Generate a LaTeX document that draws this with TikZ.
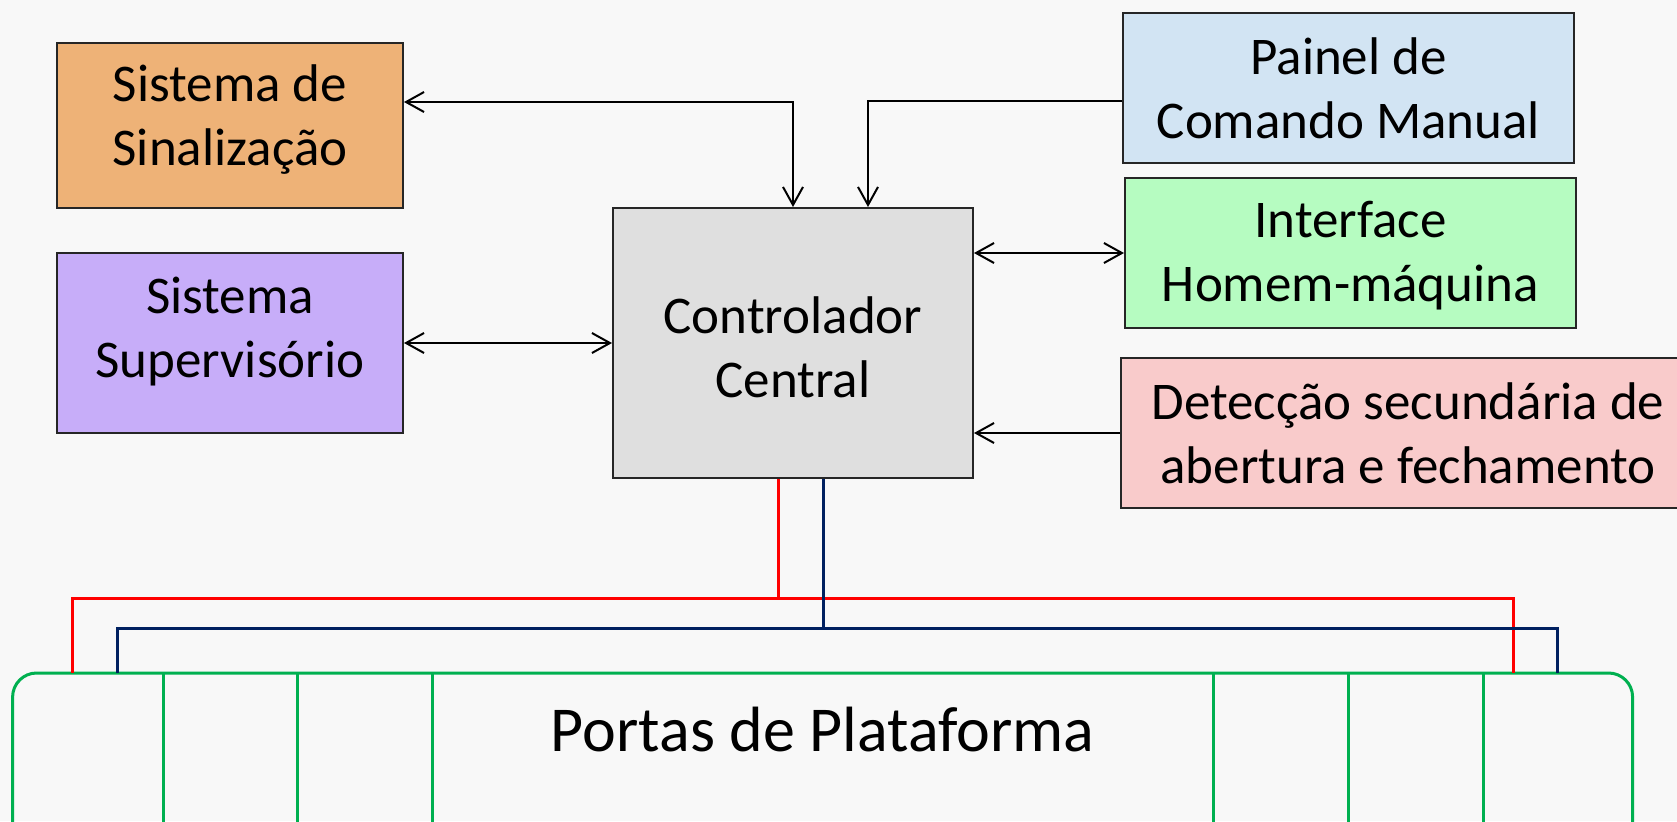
\documentclass[tikz,border=0pt]{standalone}
\usepackage{fontspec}
\setmainfont{Carlito}
\usepackage{tikz}
\usetikzlibrary{arrows.meta}

\definecolor{bgcol}{HTML}{F8F8F8}
\definecolor{sinalcol}{HTML}{EEB277}
\definecolor{supervcol}{HTML}{C7ADF9}
\definecolor{ctrlcol}{HTML}{DFDFDF}
\definecolor{painelcol}{HTML}{D2E4F3}
\definecolor{hmicol}{HTML}{B6FCC1}
\definecolor{deteccol}{HTML}{F9CBCB}
\definecolor{portacol}{HTML}{00B050}
\definecolor{busred}{HTML}{FF0000}
\definecolor{busblue}{HTML}{002060}

\begin{document}
\begin{tikzpicture}[x=0.5pt,y=-0.5pt,
  bloco/.style={draw=black!85,line width=1pt,align=center,
    font=\fontsize{26.5pt}{32pt}\selectfont,inner sep=0pt},
  arr/.style={line width=1pt,arrows={-Straight Barb[length=9pt,width=10pt,line width=1pt]}},
  arrboth/.style={line width=1pt,arrows={Straight Barb[length=9pt,width=10pt,line width=1pt]-Straight Barb[length=9pt,width=10pt,line width=1pt]}},
  redbus/.style={busred,line width=1.5pt},
  bluebus/.style={busblue,line width=1.5pt},
  porta/.style={portacol,line width=1.5pt}]
\useasboundingbox (0,0) rectangle (1677,821);
\clip (0,0) rectangle (1677,821);
\fill[bgcol] (0,0) rectangle (1677,821);

% blocos
\node[bloco,fill=sinalcol,minimum width=173pt,minimum height=82.5pt,text depth=10.5pt] (sinal) at (230,125.5) {Sistema de\\Sinalização};
\node[bloco,fill=supervcol,minimum width=173pt,minimum height=90pt,text depth=16pt] (superv) at (230,343) {Sistema\\Supervisório};
\node[bloco,fill=ctrlcol,minimum width=180pt,minimum height=135pt,text height=54.5pt] (ctrl) at (793,343) {Controlador\\Central};
\node[bloco,fill=painelcol,minimum width=225.5pt,minimum height=75pt] (painel) at (1348.5,88) {Painel de\\Comando Manual};
\node[bloco,fill=hmicol,minimum width=225.5pt,minimum height=75pt,text depth=1.5pt] (hmi) at (1350.5,253) {Interface\\Homem-máquina};
\node[bloco,fill=deteccol,minimum width=287pt,minimum height=75pt] (detec) at (1408,433) {Detecção secundária de\\abertura e fechamento};

% portas
\node[draw=portacol,line width=1.5pt,rounded corners=12pt,minimum width=810pt,minimum height=100pt] (portas) at (822.6,773) {};
\node[anchor=base,font=\fontsize{32pt}{38pt}\selectfont] (portaslbl) at (822.6,751) {Portas de Plataforma};
\foreach \x in {163,297.5,432.5,1213.5,1348,1483.5}
  \draw[porta] (\x,673) -- (\x,830);

% setas
\draw[arrboth] ([yshift=11.75pt]sinal.east) -| (ctrl.north);
\draw[arr] ([yshift=-6.5pt]painel.west) -| ([xshift=37.5pt]ctrl.north);
\draw[arrboth] (superv.east) -- (ctrl.west);
\draw[arrboth] (ctrl.east |- hmi.west) -- (hmi.west);
\draw[arr] (detec.west) -- (ctrl.east |- detec.west);

% barramentos
\coordinate (rA) at (72,673);
\coordinate (rB) at (1513,673);
\coordinate (rC) at (778,598);
\coordinate (bA) at (117,673);
\coordinate (bB) at (1557.5,673);
\coordinate (bC) at (823,628);
\draw[redbus] (ctrl.south -| rC) -- (rC);
\draw[redbus] (rA) -- (rA |- rC) -- (rB |- rC) -- (rB);
\draw[bluebus] (ctrl.south -| bC) -- (bC);
\draw[bluebus] (bA) -- (bA |- bC) -- (bB |- bC) -- (bB);
\end{tikzpicture}
\end{document}
